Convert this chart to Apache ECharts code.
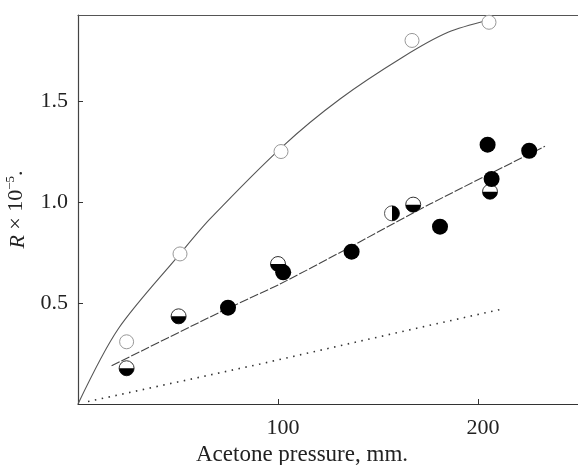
<!DOCTYPE html>
<html>
<head>
<meta charset="utf-8">
<script src="https://cdn.jsdelivr.net/npm/echarts@6/dist/echarts.min.js"></script>
<style>html,body{margin:0;padding:0;background:#fff;}#c{width:578px;height:465px;}</style>
</head>
<body>
<div id="c"></div>
<script>
// Acetone pressure (mm) vs R x 10^-5
const upperCurve = [[0,0],[20,0.37],[51,0.743],[66,0.916],[102.5,1.277],[131,1.51],[162.5,1.718],[185,1.84],[205,1.9]];
const middleLine = [[16.8,0.189],[71,0.455],[101,0.594],[132.7,0.759],[176,0.99],[233.5,1.276]];
const dottedLine = [[5,0.012],[91,0.198],[167.5,0.371],[212,0.47]];
const openPoints = [[24.3,0.308],[51,0.743],[101.5,1.25],[167,1.80],[205.5,1.89]];
const halfBottomPoints = [[24.3,0.177],[50.3,0.434],[100,0.693],[167.6,0.987],[206,1.051]];
const halfRightPoints = [[157,0.944]];
const filledPoints = [[75,0.477],[102.6,0.652],[136.8,0.754],[181,0.878],[204.8,1.284],[206.8,1.114],[225.6,1.254]];
const xTickLabels = [100, 200];
const yTickLabels = [0.5, 1.0, 1.5];

const serif = "'Liberation Serif','DejaVu Serif',serif";
const chart = echarts.init(document.getElementById('c'), null, {renderer:'canvas'});
const sz = 15;
chart.setOption({
  animation: false,
  backgroundColor: '#fff',
  grid: {left: 78, right: 0, top: 15, bottom: 61, containLabel: false, outerBoundsMode: 'none'},
  xAxis: [{
    type: 'value', min: 0, max: 250,
    axisLine: {show: true, lineStyle: {color: '#333', width: 1.2}},
    axisTick: {show: true, inside: true, length: 5, lineStyle: {color: '#333'}, customValues: xTickLabels},
    splitLine: {show: false},
    axisLabel: {
      margin: 13, fontFamily: serif, fontSize: 22, color: '#222', padding: [0,0,0,10],
      customValues: xTickLabels,
      formatter: v => String(v)
    }
  }, {
    type: 'value', position: 'top', min: 0, max: 250,
    axisLine: {show: true, lineStyle: {color: '#555', width: 1.2}},
    axisTick: {show: false}, axisLabel: {show: false}, splitLine: {show: false}
  }],
  yAxis: {
    type: 'value', min: 0, max: 1.926,
    axisLine: {show: true, lineStyle: {color: '#444', width: 1.2}},
    axisTick: {show: true, inside: true, length: 5, lineStyle: {color: '#333'}, customValues: yTickLabels},
    splitLine: {show: false},
    axisLabel: {
      margin: 10, fontFamily: serif, fontSize: 22, color: '#222',
      customValues: yTickLabels,
      formatter: v => v.toFixed(1)
    },
    name: '{it|R} × 10{sup|−5}.',
    nameLocation: 'middle', nameRotate: 90, nameGap: 48,
    nameTextStyle: {
      fontFamily: serif, fontSize: 22, color: '#222',
      rich: {
        it: {fontFamily: serif, fontSize: 22, fontStyle: 'italic', color: '#222', lineHeight: 26, verticalAlign: 'bottom'},
        sup: {fontFamily: serif, fontSize: 13, color: '#222', lineHeight: 26, verticalAlign: 'top'}
      }
    }
  },
  graphic: [{
    type: 'text', x: 302, y: 455,
    style: {text: 'Acetone pressure, mm.', font: "23px 'Liberation Serif','DejaVu Serif',serif", fill: '#222', textAlign: 'center', textVerticalAlign: 'middle'}
  }],
  series: [
    {type: 'line', data: upperCurve, smooth: 0.3, showSymbol: false, lineStyle: {color: '#555', width: 1.1}, z: 2},
    {type: 'line', data: middleLine, smooth: 0.2, showSymbol: false, lineStyle: {color: '#444', width: 1.1, type: [9, 2]}, z: 2},
    {type: 'line', data: dottedLine, showSymbol: false, lineStyle: {color: '#333', width: 1.6, type: [1.5, 5.5]}, z: 2},
    {type: 'scatter', data: openPoints, symbol: 'circle', symbolSize: 14,
     itemStyle: {color: '#fff', borderColor: '#999', borderWidth: 1, opacity: 1}, z: 3},
    {type: 'scatter', data: halfBottomPoints, symbol: 'circle', symbolSize: sz,
     itemStyle: {color: '#fff', borderColor: '#333', borderWidth: 1, opacity: 1}, z: 3},
    {type: 'scatter', data: halfBottomPoints, symbol: 'path://M0,0 A10,10 0 0,0 20,0 Z', symbolSize: [sz, sz/2], symbolOffset: [0, sz/4],
     itemStyle: {color: '#000', opacity: 1}, z: 4},
    {type: 'scatter', data: halfRightPoints, symbol: 'circle', symbolSize: sz,
     itemStyle: {color: '#fff', borderColor: '#555', borderWidth: 1, opacity: 1}, z: 3},
    {type: 'scatter', data: halfRightPoints, symbol: 'path://M0,0 A10,10 0 0,1 0,20 Z', symbolSize: [sz/2, sz], symbolOffset: [sz/4, 0],
     itemStyle: {color: '#000', opacity: 1}, z: 4},
    {type: 'scatter', data: filledPoints, symbol: 'circle', symbolSize: 16,
     itemStyle: {color: '#000', opacity: 1}, z: 5}
  ]
});
</script>
</body>
</html>
